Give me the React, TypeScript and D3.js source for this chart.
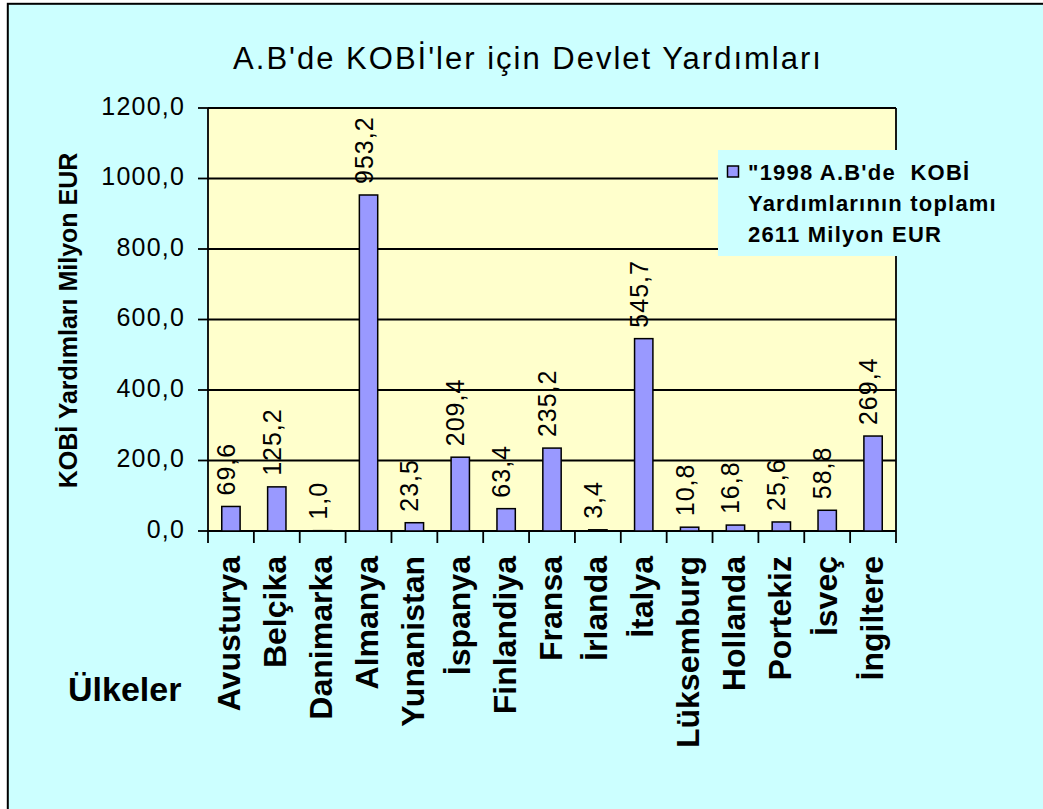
import React from "react";
import * as d3 from "d3";

const categories = ["Avusturya", "Belçika", "Danimarka", "Almanya", "Yunanistan", "İspanya", "Finlandiya", "Fransa", "İrlanda", "İtalya", "Lüksemburg", "Hollanda", "Portekiz", "İsveç", "İngiltere"];
const values = [69.6, 125.2, 1.0, 953.2, 23.5, 209.4, 63.4, 235.2, 3.4, 545.7, 10.8, 16.8, 25.6, 58.8, 269.4];
const yTicks = [0, 200, 400, 600, 800, 1000, 1200];
const title = "A.B'de KOBİ'ler için Devlet Yardımları";
const yTitle = "KOBİ Yardımları Milyon EUR";
const xTitle = "Ülkeler";
const legendLines = ["\"1998 A.B'de  KOBİ", "Yardımlarının toplamı", "2611 Milyon EUR"];

const W = 1043, H = 809;
const plot = { left: 208, right: 896, top: 108, bottom: 531 };
const font = "'Liberation Sans', Arial, sans-serif";
const fmt = (v: number) => v.toFixed(1).replace(".", ",");

export default function App() {
  const x = d3.scaleBand<string>().domain(categories).range([plot.left, plot.right]).paddingInner(0).paddingOuter(0);
  const y = d3.scaleLinear().domain([0, 1200]).range([plot.bottom, plot.top]);
  const bw = x.bandwidth() * 0.4;
  const boundaries = d3.range(categories.length + 1).map((i) => plot.left + i * x.step());

  return (
    <div style={{ position: "absolute", left: 0, top: 0 }}>
      <svg width={W} height={H} style={{ display: "block" }} fontFamily={font}>
        <rect x={0} y={0} width={W} height={H} fill="#ffffff" />
        <rect x={7.8} y={3.8} width={1200} height={1000} fill="#CCFFFF" stroke="#000" strokeWidth={2} />
        {/* title */}
        <text x={528} y={69} textAnchor="middle" fontSize={31} letterSpacing={2} fill="#000">{title}</text>
        {/* plot area */}
        <rect x={plot.left} y={plot.top} width={plot.right - plot.left} height={plot.bottom - plot.top} fill="#FFFFCC" />
        {yTicks.map((t) => (
          <line key={"g" + t} x1={plot.left} x2={plot.right} y1={y(t)} y2={y(t)} stroke="#000" strokeWidth={1.8} />
        ))}
        <line x1={plot.right} x2={plot.right} y1={plot.top} y2={plot.bottom} stroke="#000" strokeWidth={1.8} />
        {/* bars */}
        {categories.map((c, i) => {
          const cx = (x(c) as number) + x.bandwidth() / 2;
          return (
            <rect key={"b" + c} x={cx - bw / 2} y={y(values[i])} width={bw} height={y(0) - y(values[i])} fill="#9999FF" stroke="#000" strokeWidth={1.5} />
          );
        })}
        {/* value labels */}
        {categories.map((c, i) => {
          const cx = (x(c) as number) + x.bandwidth() / 2;
          const ly = y(values[i]) - 11;
          return (
            <text key={"v" + c} transform={`translate(${cx},${ly}) rotate(-90)`} dy={4} fontSize={25} letterSpacing={1} fill="#000">{fmt(values[i])}</text>
          );
        })}
        {/* axes */}
        <line x1={plot.left} x2={plot.left} y1={plot.top} y2={plot.bottom} stroke="#000" strokeWidth={1.8} />
        {yTicks.map((t) => (
          <g key={"yt" + t}>
            <line x1={plot.left - 10} x2={plot.left} y1={y(t)} y2={y(t)} stroke="#000" strokeWidth={1.8} />
            <text x={185} y={y(t) + 6.5} textAnchor="end" fontSize={25} letterSpacing={1.2} fill="#000">{fmt(t)}</text>
          </g>
        ))}
        {boundaries.map((bx, i) => (
          <line key={"xt" + i} x1={bx} x2={bx} y1={plot.bottom} y2={plot.bottom + 12} stroke="#000" strokeWidth={1.8} />
        ))}
        {categories.map((c) => {
          const cx = (x(c) as number) + x.bandwidth() / 2;
          return (
            <text key={"c" + c} transform={`translate(${cx},556) rotate(-90)`} dy={9.5} textAnchor="end" fontSize={32} fontWeight="bold" fill="#000">{c}</text>
          );
        })}
        {/* axis titles */}
        <text transform={`translate(76.5,${(plot.top + plot.bottom) / 2 + 1}) rotate(-90)`} textAnchor="middle" fontSize={25} fontWeight="bold" fill="#000">{yTitle}</text>
        <text x={68} y={701} fontSize={34} fontWeight="bold" fill="#000">{xTitle}</text>
        {/* legend */}
        <rect x={718} y={150} width={300} height={106} fill="#CCFFFF" />
        <rect x={727.5} y={166} width={11} height={11} fill="#9999FF" stroke="#000" strokeWidth={1.5} />
        {legendLines.map((l, i) => (
          <text key={"l" + i} x={748} y={180 + i * 31} fontSize={22} fontWeight="bold" letterSpacing={1.2} fill="#000" style={{ whiteSpace: "pre" }}>{l}</text>
        ))}
      </svg>
    </div>
  );
}
